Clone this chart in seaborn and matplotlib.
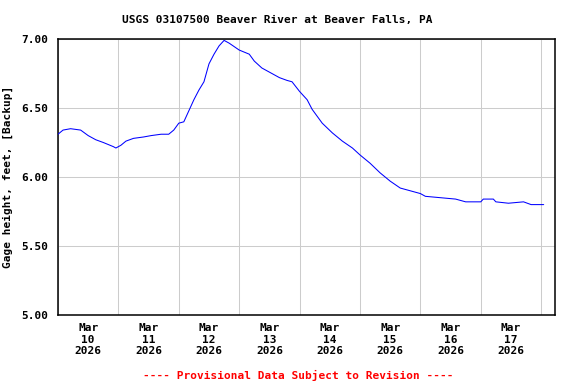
"""
plot.py
USGS gage height hydrograph, Beaver River at Beaver Falls, PA.
"""
import numpy as np
import pandas as pd
import matplotlib
matplotlib.use('Agg')
import matplotlib.pyplot as plt
import matplotlib.dates as mdates
import seaborn as sns

# Hours since Mar 10 2026 00:00 and gage height (ft)
HOURS = [0, 2, 5, 9, 12, 15, 18, 22, 23, 25, 27, 30, 34, 37, 41, 44, 46, 48,
         50, 52, 54, 56, 58, 60, 62, 64, 66, 68, 72, 76, 78, 81, 85, 88, 91,
         93, 96, 99, 101, 105, 109, 113, 117, 120, 124, 128, 132, 136, 140,
         144, 146, 152, 158, 162, 168, 169, 173, 174, 179, 185, 188, 193]
GAGE_FT = [6.31, 6.34, 6.35, 6.34, 6.30, 6.27, 6.25, 6.22, 6.21, 6.23, 6.26,
           6.28, 6.29, 6.30, 6.31, 6.31, 6.34, 6.39, 6.40, 6.48, 6.56, 6.63,
           6.69, 6.82, 6.89, 6.95, 6.99, 6.97, 6.92, 6.89, 6.84, 6.79, 6.75,
           6.72, 6.70, 6.69, 6.62, 6.56, 6.49, 6.39, 6.32, 6.26, 6.21, 6.16,
           6.10, 6.03, 5.97, 5.92, 5.90, 5.88, 5.86, 5.85, 5.84, 5.82, 5.82,
           5.84, 5.84, 5.82, 5.81, 5.82, 5.80, 5.80]
Y_TICKS = [5.0, 5.5, 6.0, 6.5, 7.0]
DAYS = pd.date_range('2026-03-10', '2026-03-18', freq='D')

TITLE = 'USGS 03107500 Beaver River at Beaver Falls, PA'
Y_LABEL = 'Gage height, feet, [Backup]'
FOOTER = '---- Provisional Data Subject to Revision ----'

start = pd.Timestamp('2026-03-10')
df = pd.DataFrame({
    'time': start + pd.to_timedelta(HOURS, unit='h'),
    'gage': GAGE_FT,
})

sns.set_style('white')
plt.rcParams['font.family'] = ['DejaVu Sans Mono']
plt.rcParams['font.weight'] = 'bold'
plt.rcParams['text.color'] = 'black'
plt.rcParams['xtick.color'] = 'black'
plt.rcParams['ytick.color'] = 'black'
plt.rcParams['axes.labelcolor'] = 'black'

fig = plt.figure(figsize=(5.76, 3.84), dpi=100)
ax = fig.add_axes([58 / 576, 1 - 315 / 384, 497 / 576, 276 / 384])

sns.lineplot(data=df, x='time', y='gage', ax=ax, color='#0000ff',
             linewidth=0.75, zorder=3)

ax.set_xlim(start, start + pd.Timedelta(hours=197.5))
ax.set_ylim(5.0, 7.0)

# gridlines at midnight, labels at noon
ax.set_xticks(DAYS)
ax.set_xticklabels([])
ax.set_xticks(DAYS[:-1] + pd.Timedelta(hours=12), minor=True)
ax.set_xticklabels([d.strftime('%b\n%d\n%Y') for d in DAYS[:-1]], minor=True,
                   fontsize=8, fontweight='bold', linespacing=1.15)
ax.set_yticks(Y_TICKS)
ax.set_yticklabels([f'{v:.2f}' for v in Y_TICKS], fontsize=8, fontweight='bold')
ax.tick_params(which='both', length=0)
ax.tick_params(axis='x', which='minor', pad=6)
ax.tick_params(axis='y', pad=7)

ax.grid(True, which='major', color='#cccccc', linewidth=0.75)
ax.set_axisbelow(True)
for s in ax.spines.values():
    s.set_color('black')
    s.set_linewidth(1.1)

ax.set_xlabel('')
ax.set_ylabel(Y_LABEL, fontsize=8, fontweight='bold', labelpad=6)

fig.text(277 / 576, 1 - 20 / 384, TITLE, ha='center', va='center',
         fontsize=8, fontweight='bold')
fig.text(298 / 576, 1 - 375 / 384, FOOTER, ha='center', va='center',
         fontsize=8, fontweight='bold', color='#ff0000')

fig.savefig('out.png', dpi=100)
